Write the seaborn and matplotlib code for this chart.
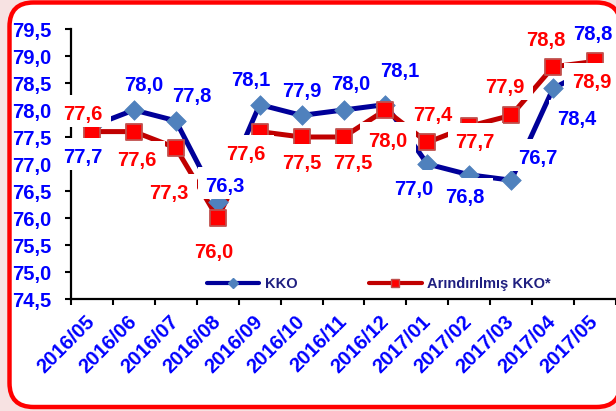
import matplotlib
matplotlib.use("Agg")
import matplotlib.pyplot as plt
import seaborn as sns
import numpy as np
import pandas as pd
from matplotlib.patches import FancyBboxPatch
from matplotlib.transforms import IdentityTransform
from matplotlib.lines import Line2D
from matplotlib.path import Path

# ---- data ----
months = ["2016/05", "2016/06", "2016/07", "2016/08", "2016/09", "2016/10", "2016/11",
          "2016/12", "2017/01", "2017/02", "2017/03", "2017/04", "2017/05"]
kko = [77.7, 78.0, 77.8, 76.3, 78.1, 77.9, 78.0, 78.1, 77.0, 76.8, 76.7, 78.4, 78.8]
ark = [77.6, 77.6, 77.3, 76.0, 77.6, 77.5, 77.5, 78.0, 77.4, 77.7, 77.9, 78.8, 78.9]
y_ticks = [74.5, 75.0, 75.5, 76.0, 76.5, 77.0, 77.5, 78.0, 78.5, 79.0, 79.5]
series_names = ["KKO", "Arındırılmış KKO*"]

# label offsets in pixels (dx right, dy down) of the label's glyph centre from each point
kko_off = [(-9, 30), (9.5, -26.5), (16, -26), (7.5, -17), (-9, -25.5), (0, -25.5), (7, -27.5),
           (14.5, -34.5), (-14, 23.5), (-4, 21), (26.5, -23.5), (24, 29), (-2, -34)]
ark_off = [(-9, -19), (3, 27), (-6.5, 44), (-4, 32.5), (-13.5, 21), (0, 25), (9, 24.5),
           (2.5, 29.5), (5, -28.5), (6, 14.5), (-6, -30), (-7, -28.5), (-3, 19)]

BLUE_LINE = "#000099"
BLUE_MARK = "#4F81BD"
RED_LINE = "#C00000"
RED_MARK = "#FF0000"
RED_EDGE = "#C0504D"
LABEL_BLUE = "#0000FF"
LABEL_RED = "#FF0000"
LEGEND_TXT = "#1F1F80"
FS = 14.5

sns.set_style("white")
plt.rcParams["font.family"] = ["Liberation Sans", "DejaVu Sans"]

W, H = 616, 411
fig = plt.figure(figsize=(W / 100, H / 100), dpi=100)
fig.patch.set_facecolor("#F7E2E2")

# rounded red frame
frame = FancyBboxPatch((9.5, 4), 611, 404.5, boxstyle="round,pad=0,rounding_size=24",
                       transform=IdentityTransform(), facecolor="white",
                       edgecolor="#FF0000", linewidth=3.2, zorder=-10)
fig.patches.append(frame)

ax = fig.add_axes([71 / W, 1 - 299 / H, 545 / W, 270 / H])
ax.set_facecolor("none")

df = pd.DataFrame({"x": np.arange(len(months)), "kko": kko, "ark": ark})

sns.lineplot(data=df, x="x", y="kko", ax=ax, color=BLUE_LINE, linewidth=3.6, zorder=2, legend=False)
sns.lineplot(data=df, x="x", y="ark", ax=ax, color=RED_LINE, linewidth=3.6, zorder=2, legend=False)
sns.scatterplot(data=df, x="x", y="kko", ax=ax, marker="D", s=100, color=BLUE_MARK,
                edgecolor=BLUE_MARK, linewidth=0.5, zorder=3, legend=False)
sns.scatterplot(data=df, x="x", y="ark", ax=ax, marker="s", s=121, color=RED_MARK,
                edgecolor=RED_EDGE, linewidth=1.3, zorder=4, legend=False)


def fmt(v):
    return f"{v:.1f}".replace(".", ",")


def label_box(x0, y0, width, height, mutation_size):
    # asymmetric white box like Excel data label (pixels)
    l, r = x0 - 8, x0 + width + 8
    b, t = y0 - 3, y0 + height + 10
    return Path([(l, b), (r, b), (r, t), (l, t), (l, b)], closed=True)


half_cap = 0.716 * FS * 100 / 72 / 2
bbox = dict(boxstyle=label_box, fc="white", ec="none")
for vals, offs, col in [(kko, kko_off, LABEL_BLUE), (ark, ark_off, LABEL_RED)]:
    for i, v in enumerate(vals):
        dx, dy = offs[i]
        ax.annotate(fmt(v), (i, v), xytext=(dx, -(dy + half_cap)), textcoords="offset pixels",
                    ha="center", va="baseline", color=col, fontsize=FS,
                    fontweight="bold", bbox=bbox, zorder=6, annotation_clip=False)

ax.set_xlim(-0.5, len(months) - 0.5)
ax.set_ylim(y_ticks[0], y_ticks[-1])
ax.set_xlabel("")
ax.set_ylabel("")

for s in ["top", "right"]:
    ax.spines[s].set_visible(False)
for s in ["left", "bottom"]:
    ax.spines[s].set_color("black")
    ax.spines[s].set_linewidth(1.6)

ax.set_yticks(y_ticks)
ax.set_yticklabels([fmt(v) for v in y_ticks], fontweight="bold", color=LABEL_BLUE, fontsize=FS)
ax.tick_params(axis="y", direction="out", length=4, width=1.5, color="black", pad=10, left=True)

ax.set_xticks(np.arange(-0.5, len(months), 1.0))
ax.set_xticklabels([])
ax.tick_params(axis="x", which="major", direction="out", length=4.5, width=1.5, color="black", bottom=True)
ax.set_xticks(np.arange(len(months)), minor=True)
ax.set_xticklabels(months, minor=True, rotation=45, ha="right", va="center",
                   rotation_mode="anchor", fontweight="bold", color=LABEL_BLUE, fontsize=FS)
ax.tick_params(axis="x", which="minor", length=0, pad=14)

handles = [
    Line2D([], [], color=BLUE_LINE, linewidth=3, marker="D", markersize=5,
           markerfacecolor=BLUE_MARK, markeredgecolor=BLUE_MARK),
    Line2D([], [], color=RED_LINE, linewidth=3, marker="s", markersize=6,
           markerfacecolor=RED_MARK, markeredgecolor=RED_EDGE),
]
leg = ax.legend(handles, series_names, loc="center", bbox_to_anchor=(0.565, 0.056),
                ncol=2, frameon=False, handlelength=3.6, handletextpad=0.4,
                columnspacing=4.9, borderpad=0,
                prop={"weight": "bold", "size": 10.5})
for t in leg.get_texts():
    t.set_color(LEGEND_TXT)

fig.savefig("out.png", dpi=100)
